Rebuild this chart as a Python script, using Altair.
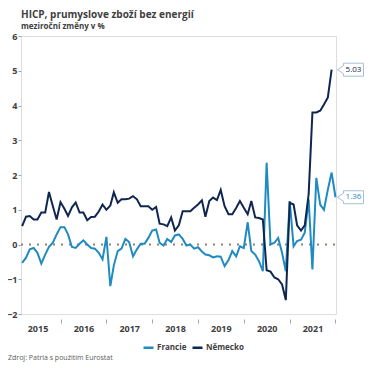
import altair as alt
import pandas as pd

title_text = "HICP, prumyslove zboží bez energií"
subtitle_text = "meziroční změny v %"
source_text = "Zdroj: Patria s použitím Eurostat"
series_names = ["Francie", "Německo"]
series_colors = ["#1f8bc0", "#0f2650"]

# monthly data, Francie Mar 2015 - Jan 2022, Nemecko Mar 2015 - Dec 2021
fr_dates = pd.date_range("2015-03-01", "2022-01-01", freq="MS")
de_dates = pd.date_range("2015-03-01", "2021-12-01", freq="MS")

francie = [
    -0.53, -0.38, -0.14, -0.10, -0.24, -0.55, -0.29, -0.07, 0.05, 0.29,
    0.50, 0.50, 0.29, -0.07, -0.10, 0.02, 0.12, 0.00, -0.10, -0.12,
    -0.24, -0.43, 0.22, -1.20, -0.60, -0.19, -0.12, 0.16, 0.07, -0.34,
    -0.14, 0.02, 0.02, 0.19, 0.40, 0.43, 0.05, -0.03, 0.16, 0.07,
    0.26, 0.29, 0.16, -0.03, 0.00, -0.12, -0.08, -0.20, -0.29, -0.31,
    -0.37, -0.34, -0.35, -0.62, -0.45, -0.19, -0.34, -0.05, -0.10, 0.64,
    -0.19, -0.29, -0.48, -0.77, 2.35, 0.00, 0.05, 0.19, -0.24, -0.77,
    1.25, -0.05, 0.10, 0.14, 0.34, 1.30, -0.72, 1.92, 1.15, 1.00,
    1.58, 2.07, 1.36,
]
nemecko = [
    0.53, 0.80, 0.82, 0.72, 0.72, 0.92, 0.92, 1.51, 1.10, 0.72,
    1.22, 1.03, 0.82, 1.07, 1.21, 0.92, 0.92, 0.70, 0.79, 0.80,
    0.95, 1.15, 1.00, 1.12, 1.50, 1.20, 1.30, 1.30, 1.32, 1.39,
    1.30, 1.10, 1.10, 1.10, 1.00, 1.08, 0.60, 0.58, 0.53, 0.78,
    0.40, 0.55, 0.96, 0.96, 0.96, 1.06, 1.15, 1.27, 0.80, 1.25,
    1.35, 1.28, 1.57, 1.10, 0.87, 0.87, 1.05, 1.25, 1.06, 0.87,
    1.25, 0.78, 0.76, 0.72, -0.74, -0.78, -0.95, -1.00, -1.15, -1.60,
    1.20, 1.15, 0.55, 0.40, 0.55, 1.45, 3.80, 3.80, 3.85, 4.03,
    4.23, 5.03,
]
y_ticks = [-2, -1, 0, 1, 2, 3, 4, 5, 6]
tick_years = [2016, 2017, 2018, 2019, 2020, 2021, 2022]

df = pd.concat([
    pd.DataFrame({"date": fr_dates, "value": francie, "series": "Francie"}),
    pd.DataFrame({"date": de_dates, "value": nemecko, "series": "Německo"}),
])

callout_date = fr_dates[-1]
callouts = pd.DataFrame({
    "date": [callout_date, callout_date],
    "value": [francie[-1], nemecko[-1]],
    "series": ["Francie", "Německo"],
    "label": [f"{francie[-1]:.2f}", f"{nemecko[-1]:.2f}"],
})

W, H = 315, 278
PAD_L, PAD_T = 13, 28
TOTAL_W, TOTAL_H = 357, 354
FONT = "Open Sans"
TXT = "#404040"

x_scale = alt.Scale(domain=[alt.DateTime(year=2015, month=2, date=20),
                            alt.DateTime(year=2022, month=1, date=5)])
y_scale = alt.Scale(domain=[-2, 6], nice=False)
color_scale = alt.Scale(domain=series_names, range=series_colors)

x_axis = alt.Axis(
    values=[alt.DateTime(year=y, month=1, date=1) for y in tick_years],
    labelExpr="year(datum.value) - 1",
    labelOffset=-23, labelFlush=False, labelOverlap=False,
    domain=False, grid=False, tickColor="#a6a6a6", tickSize=4, offset=5,
    labelPadding=1, labelFont=FONT, labelFontSize=9, labelFontWeight="bold",
    labelColor=TXT, title=None,
)
y_axis = alt.Axis(
    values=y_ticks, domain=False, grid=False, tickColor="#a6a6a6", tickSize=3,
    labelPadding=1, labelFont=FONT, labelFontSize=9, labelFontWeight="bold",
    labelColor=TXT, title=None, labelOverlap=False, labelFlush=False,
    labelBound=False,
)

X = alt.X("date:T", scale=x_scale, axis=x_axis)
Y = alt.Y("value:Q", scale=y_scale, axis=y_axis)

zero = alt.Chart(pd.DataFrame({"value": [0]})).mark_rule(
    color="#8e8177", strokeDash=[2, 6], strokeWidth=1.8
).encode(y=Y, x=alt.value(0), x2=alt.value(W))

lines = alt.Chart(df).mark_line(strokeWidth=2).encode(
    x=X, y=Y,
    color=alt.Color("series:N", scale=color_scale, sort=series_names,
                    legend=alt.Legend(
                        title=None, orient="none", legendX=121, legendY=305,
                        direction="horizontal", symbolType="stroke",
                        symbolStrokeWidth=2.5, symbolSize=100,
                        labelFont=FONT, labelFontSize=8, labelFontWeight="bold",
                        labelColor=TXT, columnPadding=0, labelOffset=2)),
)

box_path = "M2,0 L8,-4 L8,-6.5 L28,-6.5 L28,6.5 L8,6.5 L8,4 Z"
boxes = alt.Chart(callouts).mark_point(
    shape=box_path, size=4, filled=True, fill="white", stroke="#a9bfd6",
    strokeWidth=1, opacity=1,
).encode(x=X, y=Y)

labels = alt.Chart(callouts).mark_text(
    dx=18, font=FONT, fontSize=8, align="center", baseline="middle"
).encode(
    x=X, y=Y, text="label:N",
    color=alt.Color("series:N", scale=color_scale, legend=None),
)

source = alt.Chart(pd.DataFrame({"t": [source_text]})).mark_text(
    align="left", baseline="middle", font=FONT, fontSize=7, color="#595959"
).encode(text="t:N", x=alt.value(-PAD_L), y=alt.value(322))

chart = alt.layer(zero, lines, boxes, labels, source).properties(
    width=W, height=H,
    title=alt.TitleParams(
        text=title_text, subtitle=subtitle_text, anchor="start", frame="group",
        font=FONT, fontSize=10, fontWeight="bold", color=TXT,
        subtitleFont=FONT, subtitleFontSize=8, subtitleFontWeight="bold",
        subtitleColor=TXT, offset=1, subtitlePadding=3,
    ),
    autosize=alt.AutoSizeParams(type="none"),
    padding={"left": PAD_L, "top": PAD_T, "right": TOTAL_W - PAD_L - W,
             "bottom": TOTAL_H - PAD_T - H},
).configure_view(stroke=None).configure(background="white")

chart.save("out.html", embed_options={"renderer": "svg", "actions": False})
